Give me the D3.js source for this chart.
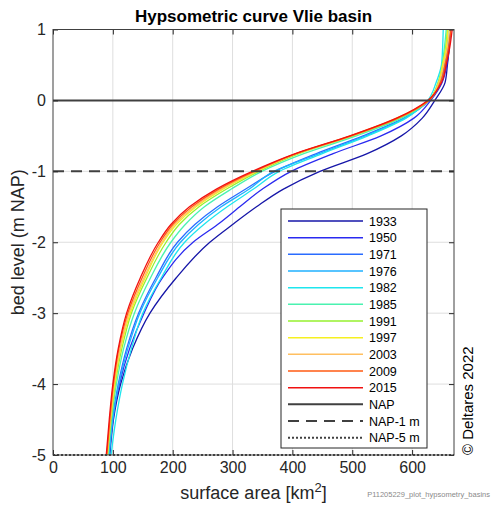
<!DOCTYPE html>
<html><head><meta charset="utf-8">
<script src="https://cdn.jsdelivr.net/npm/d3@7"></script>
<style>
html,body{margin:0;padding:0;background:#fff;}
svg{display:block;font-family:Arial,"Liberation Sans",sans-serif;}
</style></head>
<body>
<svg id="c" width="492" height="510"></svg>
<script>
// bed levels (m NAP) at which the surface area was read
const levels = [-5,-4.5,-4,-3.5,-3,-2.5,-2,-1.75,-1.5,-1.25,-1,-0.75,-0.5,-0.25,0,0.25,0.5,0.75,1];
const years = ["1933","1950","1971","1976","1982","1985","1991","1997","2003","2009","2015"];
const colors = ["#1616a8","#2a2af0","#2a6cff","#1fb0ff","#1ee6ee","#4af2b0","#96f02e","#f6f020","#ffbf60","#ff5a12","#f01010"];
// surface area [km2] per year at each level
const a1933 = [95,101,113,133,162,206,262,300,340,385,446,525,582,617,638,655,659,662,663];
const a1950 = [94,100,111,128,152,183,234,275,312,350,398,468,548,603,631,650,658,662,664];
const a1971 = [93,99,109,123,143,172,208,237,275,322,371,440,518,586,629,647,656,661,663];
const a1976 = [94,100,110,125,145,175,213,243,281,328,369,445,522,588,628,645,654,658,660];
const a1982 = [97,105,116,131,150,181,220,252,291,335,378,450,526,590,626,640,649,651,652];
const a1985 = [92,98,106,118,136,163,197,221,253,298,349,419,507,582,628,643,650,654,657];
const a1991 = [91,97,104,115,131,157,189,211,244,290,344,411,501,578,628,644,651,656,659];
const a1997 = [91,96,103,113,129,154,184,206,239,284,341,407,497,574,627,644,651,657,660];
const a2003 = [90,96,102,112,127,152,182,203,236,281,339,407,499,576,628,645,653,659,663];
const a2009 = [90,95,101,110,125,149,179,200,232,277,336,406,498,576,628,647,655,661,665];
const a2015 = [89,94,100,109,123,146,176,197,228,273,333,405,496,574,626,649,657,663,667];
const areas = [a1933,a1950,a1971,a1976,a1982,a1985,a1991,a1997,a2003,a2009,a2015];
const xTicks = [0,100,200,300,400,500,600];
const yTicks = [1,0,-1,-2,-3,-4,-5];
const refNames = ["NAP","NAP-1 m","NAP-5 m"];
const refLevels = [0,-1,-5];

const svg = d3.select("#c");
const L=53, R=454, T=29.5, B=455;
const x = d3.scaleLinear().domain([0,670]).range([L,R]);
const y = d3.scaleLinear().domain([-5,1]).range([B,T]);
const axisCol = "#262626";

// grid
const g = svg.append("g");
g.selectAll(".gx").data(xTicks.slice(1)).join("line")
  .attr("x1",d=>x(d)).attr("x2",d=>x(d)).attr("y1",T).attr("y2",B)
  .attr("stroke","#dedede").attr("stroke-width",1);
g.selectAll(".gy").data(yTicks.slice(1,-1)).join("line")
  .attr("x1",L).attr("x2",R).attr("y1",d=>y(d)).attr("y2",d=>y(d))
  .attr("stroke","#dedede").attr("stroke-width",1);

// curves
const line = d3.line().x(d=>x(d[0])).y(d=>y(d[1])).curve(d3.curveMonotoneY);
const plot = svg.append("g");
areas.forEach((arr,i)=>{
  plot.append("path").datum(arr.map((v,j)=>[v,levels[j]]))
    .attr("d",line).attr("fill","none").attr("stroke",colors[i]).attr("stroke-width",1.3);
});

// reference lines
const refStyle = [{dash:null,w:2},{dash:"11,7",w:2},{dash:"2,2",w:2}];
refLevels.forEach((lv,i)=>{
  plot.append("line").attr("x1",L).attr("x2",R).attr("y1",y(lv)).attr("y2",y(lv))
    .attr("stroke","#404040").attr("stroke-width",refStyle[i].w)
    .attr("stroke-dasharray",refStyle[i].dash);
});

// axes
const fs = "16px";
const ax = svg.append("g").attr("transform",`translate(0,${B})`)
  .call(d3.axisBottom(x).tickValues(xTicks).tickSizeInner(-5).tickSizeOuter(0).tickPadding(7));
const ay = svg.append("g").attr("transform",`translate(${L},0)`)
  .call(d3.axisLeft(y).tickValues(yTicks).tickFormat(d=>String(d)).tickSizeInner(-5).tickSizeOuter(0).tickPadding(7));
const at = svg.append("g").attr("transform",`translate(0,${T})`)
  .call(d3.axisTop(x).tickValues(xTicks).tickSizeInner(-5).tickSizeOuter(0).tickFormat(""));
const ar = svg.append("g").attr("transform",`translate(${R},0)`)
  .call(d3.axisRight(y).tickValues(yTicks).tickSizeInner(-5).tickSizeOuter(0).tickFormat(""));
[ax,ay,at,ar].forEach(a=>{
  a.select(".domain").remove();
  a.selectAll("line").attr("stroke",axisCol);
  a.selectAll("text").attr("font-size",fs).attr("fill",axisCol).attr("font-family","Arial, 'Liberation Sans', sans-serif");
});
svg.append("rect").attr("x",L).attr("y",T).attr("width",R-L).attr("height",B-T)
  .attr("fill","none").attr("stroke","#404040").attr("stroke-width",1);

// title & labels
svg.append("text").attr("x",(L+R)/2).attr("y",22).attr("text-anchor","middle")
  .attr("font-size","17px").attr("font-weight","bold").attr("fill","#000")
  .text("Hypsometric curve Vlie basin");
const xl = svg.append("text").attr("x",(L+R)/2).attr("y",499).attr("text-anchor","middle")
  .attr("font-size","18px").attr("fill",axisCol);
xl.append("tspan").text("surface area [km");
xl.append("tspan").attr("dy",-7).attr("font-size","13px").text("2");
xl.append("tspan").attr("dy",7).text("]");
svg.append("text").attr("transform",`translate(24,${(T+B)/2}) rotate(-90)`).attr("text-anchor","middle")
  .attr("font-size","18px").attr("fill",axisCol).text("bed level (m NAP)");
svg.append("text").attr("transform",`translate(473,455) rotate(-90)`).attr("text-anchor","start")
  .attr("font-size","15px").attr("fill","#000").text("\u00A9 Deltares 2022");
svg.append("text").attr("x",490).attr("y",497).attr("text-anchor","end")
  .attr("font-size","7.5px").attr("fill","#8a8a8a").text("P11205229_plot_hypsometry_basins");

// legend
const lg = svg.append("g");
lg.append("rect").attr("x",281).attr("y",209).attr("width",146).attr("height",239)
  .attr("fill","#fff").attr("stroke","#262626").attr("stroke-width",1);
const entries = years.map((yr,i)=>({name:yr,color:colors[i],dash:null,w:1.5}))
  .concat(refNames.map((n,i)=>({name:n,color:"#404040",dash:refStyle[i].dash,w:2})));
entries.forEach((e,i)=>{
  const yy = 221 + i*16.67;
  lg.append("line").attr("x1",288).attr("x2",363).attr("y1",yy).attr("y2",yy)
    .attr("stroke",e.color).attr("stroke-width",e.w).attr("stroke-dasharray",e.dash);
  lg.append("text").attr("x",369).attr("y",yy+4.5).attr("font-size","12.5px").attr("fill","#000").text(e.name);
});
</script>
</body></html>
